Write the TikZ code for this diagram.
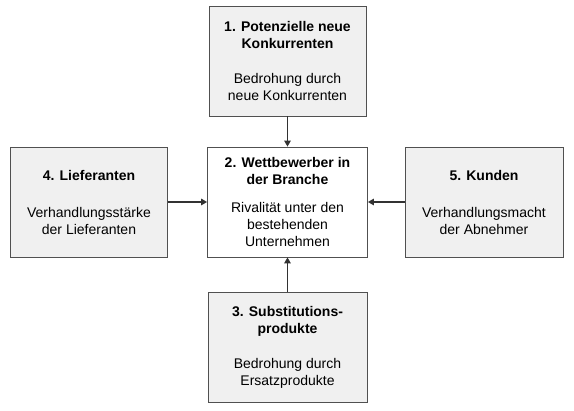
\documentclass[tikz,border=0pt]{standalone}
\usepackage{fontspec}
\setmainfont{Liberation Sans}
\usetikzlibrary{arrows.meta}
\definecolor{boxFill}{RGB}{240,240,240}
\definecolor{boxLine}{RGB}{80,80,80}
\definecolor{arrowColor}{RGB}{50,50,50}
\tikzstyle{canvas} = [x = 1pt, y = -1pt]
\tikzstyle{forceBox} = [draw=boxLine, fill=boxFill, line width = .8pt, minimum width = 157pt, minimum height = 110pt, inner sep = 0pt, align = center, font=\fontsize{14}{17}\selectfont]
\tikzstyle{rivalBox} = [forceBox, fill=white, minimum width = 160pt]
\tikzstyle{forceArrow} = [draw=arrowColor, line width = 1.4pt, -{Triangle[length = 6pt, width = 6.5pt]}]
\newcommand{\forceText}[3]{#1\\[#2]#3}

\begin{document}
\begin{tikzpicture}[canvas]
        \useasboundingbox (0,0) rectangle (574,411);
        \node [forceBox] (entrants) at (287.5,61) {\forceText{\textbf{1. Potenzielle neue}\\\textbf{Konkurrenten}}{18pt}{Bedrohung durch\\neue Konkurrenten}};
        \node [rivalBox] (rivalry) at (287.5,202) {\forceText{\textbf{2. Wettbewerber in}\\\textbf{der Branche}}{11pt}{Rivalität unter den\\bestehenden\\Unternehmen}};
        \node [forceBox] (suppliers) at (89,202) {\forceText{\textbf{4. Lieferanten}}{20pt}{Verhandlungsstärke\\der Lieferanten}};
        \node [forceBox, minimum width = 158pt] (buyers) at (484,202) {\forceText{\textbf{5. Kunden}}{20pt}{Verhandlungsmacht\\der Abnehmer}};
        \node [forceBox, minimum width = 159pt] (substitutes) at (287.5,347) {\forceText{\textbf{3. Substitutions-}\\\textbf{produkte}}{18pt}{Bedrohung durch\\Ersatzprodukte}};

        \draw [forceArrow] (entrants) -- (rivalry);
        \draw [forceArrow] (substitutes) -- (rivalry);
        \draw [forceArrow] (suppliers) -- (rivalry);
        \draw [forceArrow] (buyers) -- (rivalry);
      \end{tikzpicture}
\end{document}
